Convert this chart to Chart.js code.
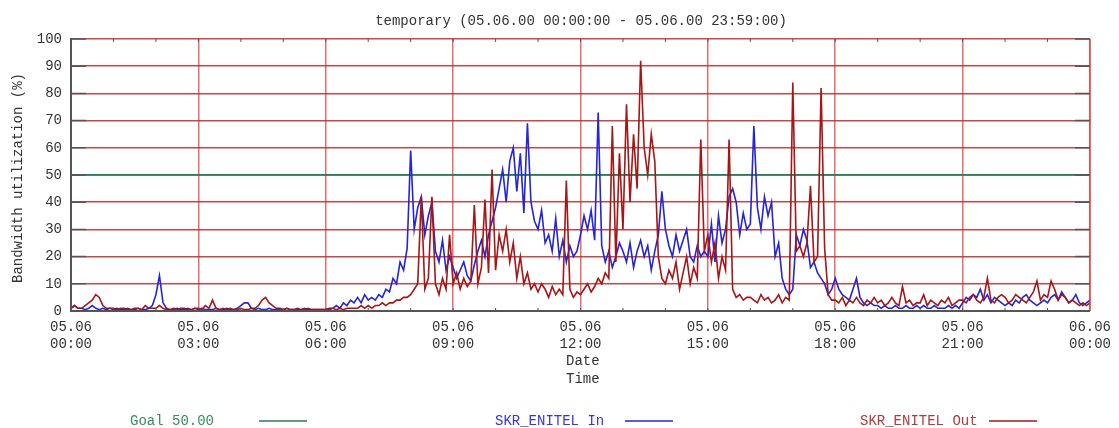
<!DOCTYPE html>
<html>
<head>
<meta charset="utf-8">
<title>temporary</title>
<script src="https://cdn.jsdelivr.net/npm/chart.js@4"></script>
<style>
html, body { margin: 0; padding: 0; background: #fff; }
#chart { display: block; }
</style>
</head>
<body>
<canvas id="chart" width="1119" height="428"></canvas>
<script>
var titleText = 'temporary (05.06.00 00:00:00 - 05.06.00 23:59:00)';
var yTitle = 'Bandwidth utilization (%)';
var xTitle = ['Date', 'Time'];
var xTickLabels = [
    ['05.06', '00:00'], ['05.06', '03:00'], ['05.06', '06:00'],
    ['05.06', '09:00'], ['05.06', '12:00'], ['05.06', '15:00'],
    ['05.06', '18:00'], ['05.06', '21:00'], ['06.06', '00:00']
];
var seriesLabels = ['Goal 50.00', 'SKR_ENITEL In', 'SKR_ENITEL Out'];
var goalValue = [50, 50];
var goalHours = [0, 24];
var stepMinutes = 5;

// 5 minute samples, one row per hour
var inValues = [
    1,2,1,1,0.5,1,2,1,0.5,1,0.5,1,
    0.5,1,0.5,0.5,1,0.5,0.5,1,0.5,0.5,1,2,
    6,13,3,1,0.5,0.5,1,0.5,0.5,1,0.5,1,
    0.5,1,0.5,0.5,0.5,1,0.5,0.5,1,0.5,0.5,1,
    2,3,3,1,0.5,1,0.5,0.5,1,0.5,0.5,0.5,
    0.5,1,0.5,0.5,0.5,0.5,1,0.5,0.5,0.5,0.5,0.5,
    0.5,1,1,2,1,3,2,4,3,5,3,6,
    4,5,4,6,5,8,7,12,10,18,15,23,
    59,30,38,42,28,35,40,22,18,26,15,20,
    16,12,15,18,13,11,17,22,26,20,28,33,
    38,45,52,40,55,60,44,58,36,69,40,33,
    30,37,25,28,22,34,20,26,18,24,20,22,
    28,35,30,37,26,73,24,18,22,16,20,25,
    22,18,25,16,22,26,20,24,15,22,28,44,
    30,24,20,28,22,26,30,20,18,24,20,22,
    20,32,18,35,25,30,42,45,40,28,36,30,
    32,68,38,30,42,35,40,20,25,12,8,6,
    8,28,24,30,26,16,18,14,12,10,6,8,
    12,8,6,5,4,8,12,5,3,2,3,2,
    2,1,2,1,1,2,1,1,2,1,1,2,
    1,2,1,1,2,1,1,1,2,1,2,1,
    3,5,4,6,5,8,4,6,3,5,4,3,
    2,3,2,4,3,5,6,4,3,2,3,4,
    3,5,6,4,7,5,3,4,6,3,2,3,
    4
];
var outValues = [
    1,2,1,1,2,3,4,6,5,2,1,1,
    1,0.5,1,1,0.5,0.5,1,1,0.5,2,1,1,
    1,2,1,0.5,0.5,1,0.5,1,1,0.5,0.5,1,
    1,0.5,2,1,4,1,0.5,1,0.5,1,0.5,0.5,
    1,0.5,0.5,1,1,2,4,5,3,2,1,1,
    0.5,1,0.5,0.5,1,0.5,0.5,1,0.5,0.5,0.5,0.5,
    0.5,0.5,1,0.5,1,0.5,1,1,1,1,2,1,
    2,1,2,2,3,2,3,3,4,4,5,5,
    6,8,10,42,8,12,42,10,6,12,8,28,
    10,14,8,12,9,11,39,10,16,41,14,52,
    15,28,22,30,18,25,12,20,10,14,8,10,
    7,10,8,5,9,6,8,6,48,8,5,7,
    6,8,10,7,9,12,10,14,12,68,18,58,
    30,76,40,65,45,92,60,50,65,55,20,12,
    10,15,12,18,8,14,20,10,16,12,63,22,
    28,18,25,12,20,15,63,8,5,6,4,5,
    5,4,3,6,4,5,3,4,6,3,5,4,
    84,22,24,20,25,46,18,20,82,23,6,4,
    4,3,5,2,4,3,5,3,2,4,3,5,
    3,4,2,3,5,3,2,9,3,4,2,3,
    3,6,2,4,3,2,4,3,5,2,3,4,
    4,3,5,6,4,3,5,12,4,3,5,6,
    5,3,4,6,5,4,3,5,7,11,4,6,
    5,11,8,4,6,5,3,4,3,2,3,2,
    3
];

var FONT = '"Liberation Mono", "DejaVu Sans Mono", monospace';
var goalColor = '#2e7a58';
var inColor = '#2424d8';
var outColor = '#a51616';

function toPoints(values) {
    return values.map(function (v, i) {
        return { x: i * stepMinutes / 60, y: v };
    });
}

// axes, inner ticks, titles and legend like the old gnuplot style picture
var framePlugin = {
    id: 'frame',
    afterDraw: function (chart) {
        var ctx = chart.ctx;
        var a = chart.chartArea;
        var xs = chart.scales.x;
        var ys = chart.scales.y;
        ctx.save();

        // right border
        ctx.strokeStyle = 'rgba(225,60,60,0.6)';
        ctx.lineWidth = 2;
        ctx.beginPath();
        ctx.moveTo(a.right, a.top);
        ctx.lineTo(a.right, a.bottom);
        ctx.stroke();

        // left and bottom axis
        ctx.strokeStyle = '#555';
        ctx.lineWidth = 2;
        ctx.beginPath();
        ctx.moveTo(a.left, a.top - 1);
        ctx.lineTo(a.left, a.bottom);
        ctx.lineTo(a.right, a.bottom);
        ctx.stroke();

        // inner ticks on y
        ctx.lineWidth = 1.5;
        ys.ticks.forEach(function (t) {
            var y = ys.getPixelForValue(t.value);
            ctx.beginPath();
            ctx.moveTo(a.left, y);
            ctx.lineTo(a.left + 15, y);
            ctx.moveTo(a.right - 15, y);
            ctx.lineTo(a.right, y);
            ctx.stroke();
        });
        // hour ticks on top and bottom
        ctx.lineWidth = 1;
        for (var h = 1; h < 24; h++) {
            var x = xs.getPixelForValue(h);
            ctx.beginPath();
            ctx.moveTo(x, a.top);
            ctx.lineTo(x, a.top + 3);
            ctx.moveTo(x, a.bottom);
            ctx.lineTo(x, a.bottom - 3);
            ctx.stroke();
        }

        ctx.font = '14px ' + FONT;
        ctx.fillStyle = '#333';
        ctx.textBaseline = 'middle';

        // title
        ctx.textAlign = 'center';
        ctx.fillText(titleText, 581, 21);

        // y title
        ctx.save();
        ctx.translate(18, 178);
        ctx.rotate(-Math.PI / 2);
        ctx.fillText(yTitle, 0, 0);
        ctx.restore();

        // x title
        ctx.textAlign = 'left';
        ctx.fillText(xTitle[0], 566, 361);
        ctx.fillText(xTitle[1], 566, 379);

        // legend
        var entries = [
            { text: seriesLabels[0], color: '#3a8a60', line: goalColor, tx: 130, lx: 259 },
            { text: seriesLabels[1], color: '#3535e0', line: inColor, tx: 495, lx: 625 },
            { text: seriesLabels[2], color: '#b03a3a', line: outColor, tx: 860, lx: 989 }
        ];
        entries.forEach(function (e) {
            ctx.fillStyle = e.color;
            ctx.fillText(e.text, e.tx, 421);
            ctx.strokeStyle = e.line;
            ctx.lineWidth = 1.5;
            ctx.beginPath();
            ctx.moveTo(e.lx, 421);
            ctx.lineTo(e.lx + 48, 421);
            ctx.stroke();
        });
        ctx.restore();
    }
};

var ctx = document.getElementById('chart').getContext('2d');
var chart = new Chart(ctx, {
    type: 'line',
    data: {
        datasets: [{
            label: seriesLabels[2],
            data: toPoints(outValues),
            borderColor: outColor,
            borderWidth: 1.6,
            order: 0
        }, {
            label: seriesLabels[1],
            data: toPoints(inValues),
            borderColor: inColor,
            borderWidth: 1.6,
            order: 1
        }, {
            label: seriesLabels[0],
            data: goalHours.map(function (h, i) { return { x: h, y: goalValue[i] }; }),
            borderColor: goalColor,
            borderWidth: 1.5,
            order: 2
        }]
    },
    options: {
        responsive: false,
        animation: false,
        devicePixelRatio: 1,
        layout: { padding: { left: 0, right: 22, top: 39, bottom: 0 } },
        elements: {
            point: { radius: 0 },
            line: { tension: 0, fill: false }
        },
        scales: {
            x: {
                type: 'linear',
                min: 0,
                max: 24,
                afterFit: function (scale) { scale.height = 117; },
                grid: {
                    color: 'rgba(225,45,45,0.7)',
                    lineWidth: 1.5,
                    drawTicks: false
                },
                border: { display: false },
                ticks: {
                    stepSize: 3,
                    autoSkip: false,
                    maxRotation: 0,
                    padding: 8,
                    color: '#333',
                    font: { family: FONT, size: 14, lineHeight: 1.2 },
                    callback: function (value, index) { return xTickLabels[index]; }
                }
            },
            y: {
                min: 0,
                max: 100,
                afterFit: function (scale) { scale.width = 71; },
                grid: {
                    color: function (c) { return c.tick && c.tick.value === 50 ? goalColor : 'rgba(190,40,40,0.85)'; },
                    lineWidth: 1.5,
                    drawTicks: false
                },
                border: { display: false },
                ticks: {
                    stepSize: 10,
                    padding: 9,
                    color: '#333',
                    font: { family: FONT, size: 14 }
                }
            }
        },
        plugins: {
            legend: { display: false },
            title: { display: false },
            tooltip: { enabled: false }
        }
    },
    plugins: [framePlugin]
});
</script>
</body>
</html>
